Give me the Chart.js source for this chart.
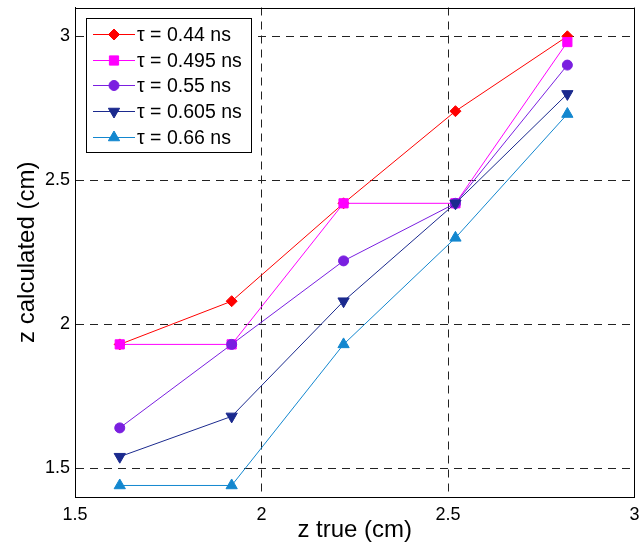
<!DOCTYPE html>
<html>
<head>
<meta charset="utf-8">
<script src="https://cdn.jsdelivr.net/npm/chart.js@4.4.1/dist/chart.umd.min.js"></script>
<style>
  html, body { margin:0; padding:0; background:#fff; }
  #wrap { width:642px; height:552px; }
</style>
</head>
<body>
<div id="wrap"><canvas id="c"></canvas></div>
<script>
// ── data ──
const zTrue   = [1.62, 1.92, 2.22, 2.52, 2.82];
const tau044  = [1.93, 2.08, 2.42, 2.74, 3.00];
const tau0495 = [1.93, 1.93, 2.42, 2.42, 2.98];
const tau055  = [1.64, 1.93, 2.22, 2.42, 2.90];
const tau0605 = [1.54, 1.68, 2.08, 2.42, 2.80];
const tau066  = [1.44, 1.44, 1.93, 2.30, 2.73];
const seriesNames = ['τ = 0.44 ns', 'τ = 0.495 ns', 'τ = 0.55 ns', 'τ = 0.605 ns', 'τ = 0.66 ns'];
const xTicks = [1.5, 2, 2.5, 3];
const yTicks = [1.5, 2, 2.5, 3];

const FONT = "'Liberation Sans', Arial, Helvetica, sans-serif";
Chart.defaults.font.family = FONT;
Chart.defaults.color = '#000';

const C = { red:'#ff0000', mag:'#ff00ff', pur:'#7a1fe0', navy:'#1b2a8e', cyan:'#1387cf' };

function mk(i, vals, color, style, r, rot) {
  return {
    label: seriesNames[i],
    data: zTrue.map((x, k) => ({ x, y: vals[k] })),
    borderColor: color, backgroundColor: color,
    borderWidth: 1, pointStyle: style, pointRadius: r, pointHoverRadius: r,
    pointRotation: rot || 0, pointBorderWidth: 1, tension: 0,
    order: 5 - i
  };
}

// top/right frame like MATLAB box on
const frame = {
  id: 'frame',
  afterDatasetsDraw(chart) {
    const { ctx, chartArea: a } = chart;
    const l = Math.round(a.left) + 0.5, r = Math.round(a.right) - 0.5, t = Math.round(a.top) + 0.5;
    ctx.save();
    ctx.strokeStyle = '#000'; ctx.lineWidth = 1;
    ctx.beginPath();
    ctx.moveTo(l, t); ctx.lineTo(r, t); ctx.lineTo(r, Math.round(a.bottom));
    ctx.stroke();
    ctx.restore();
  }
};

// boxed legend in the upper left, line + marker + text
const boxLegend = {
  id: 'boxLegend',
  afterDraw(chart) {
    const ctx = chart.ctx;
    const x0 = 86, y0 = 18, w = 165, h = 134;
    ctx.save();
    ctx.fillStyle = '#fff';
    ctx.fillRect(x0, y0, w, h);
    ctx.strokeStyle = '#000'; ctx.lineWidth = 1;
    ctx.strokeRect(x0 + 0.5, y0 + 0.5, w, h);
    chart.data.datasets.forEach((ds, i) => {
      const y = Math.round(y0 + 16 + i * 25.7) + 0.5;
      ctx.strokeStyle = ds.borderColor; ctx.lineWidth = 1;
      ctx.beginPath(); ctx.moveTo(93, y); ctx.lineTo(135, y); ctx.stroke();
      ctx.fillStyle = ds.backgroundColor;
      Chart.helpers.drawPoint(ctx, {
        pointStyle: ds.pointStyle, radius: ds.pointRadius,
        rotation: ds.pointRotation, borderWidth: 1
      }, 114, y);
      ctx.fillStyle = '#000';
      ctx.font = '19.5px ' + FONT;
      ctx.textBaseline = 'middle';
      ctx.textAlign = 'left';
      ctx.fillText(ds.label, 137, y + 1);
    });
    ctx.restore();
  }
};

new Chart(document.getElementById('c'), {
  type: 'line',
  data: {
    datasets: [
      mk(0, tau044,  C.red,  'rectRot', 5.5),
      mk(1, tau0495, C.mag,  'rect',    6.5),
      mk(2, tau055,  C.pur,  'circle',  5),
      mk(3, tau0605, C.navy, 'triangle', 6.5, 180),
      mk(4, tau066,  C.cyan, 'triangle', 6.5)
    ]
  },
  options: {
    responsive: true, maintainAspectRatio: false, animation: false,
    devicePixelRatio: 1,
    layout: { padding: { left: 0, right: 5, top: 7, bottom: 0 } },
    plugins: { legend: { display: false }, tooltip: { enabled: false } },
    scales: {
      x: {
        type: 'linear', min: 1.5, max: 3,
        afterBuildTicks: s => { s.ticks = xTicks.map(v => ({ value: v })); },
        afterFit: s => { s.height = 55; s.paddingLeft = 0; s.paddingRight = 0; },
        grid: { color: '#222', lineWidth: 1, drawTicks: false },
        border: { color: '#000', width: 1, dash: [8, 6] },
        ticks: { font: { size: 18 }, color: '#000', padding: 7, maxRotation: 0, callback: v => String(v) },
        title: { display: true, text: 'z true (cm)', font: { size: 24 }, color: '#000', padding: { top: 7.6, bottom: 7.6 } }
      },
      y: {
        min: 1.4, max: 3.1,
        afterBuildTicks: s => { s.ticks = yTicks.map(v => ({ value: v })); },
        afterFit: s => { s.width = 75; s.paddingTop = 0; s.paddingBottom = 0; },
        grid: { color: '#222', lineWidth: 1, drawTicks: false },
        border: { color: '#000', width: 1, dash: [8, 6] },
        ticks: { font: { size: 18 }, color: '#000', padding: 5, callback: v => String(v) },
        title: { display: true, text: 'z calculated (cm)', font: { size: 24 }, color: '#000', padding: { top: 12.6, bottom: 12.6 } }
      }
    }
  },
  plugins: [frame, boxLegend]
});
</script>
</body>
</html>
